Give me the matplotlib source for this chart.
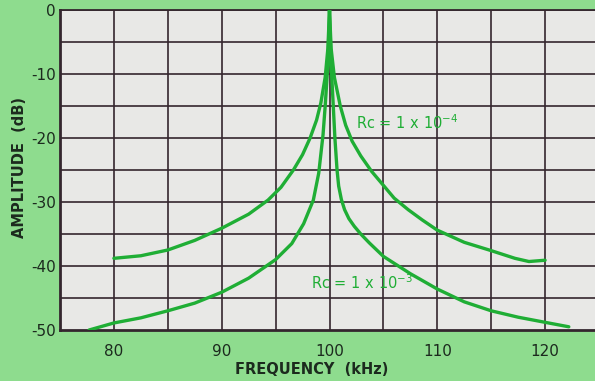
import matplotlib
matplotlib.use("Agg")
import matplotlib.pyplot as plt
import numpy as np

# Frequency response of the filter for two values of Rc
freq_rc4 = [80, 82.5, 85, 87.5, 90, 92.5, 94.3, 95.5, 96.65, 97.5, 98.2, 98.8,
            99.2, 99.6, 99.85, 100, 100.15, 100.45, 101.0, 101.5, 102.1, 102.9,
            103.9, 105.0, 106.0, 107.3, 108.6, 110, 112.5, 115, 117.2, 118.5, 120]
amp_rc4 = [-38.8, -38.4, -37.5, -36.0, -34.1, -31.9, -29.7, -27.7, -25.0, -22.6,
           -20.0, -17.2, -14.5, -10.5, -6.0, 0, -6.0, -10.5, -15.0, -18.0, -20.5,
           -22.8, -25.2, -27.4, -29.4, -31.2, -32.8, -34.4, -36.3, -37.6, -38.8,
           -39.3, -39.1]

freq_rc3 = [77.7, 80, 82.5, 85, 87.5, 90, 92.5, 95, 96.5, 97.6, 98.5, 99.0, 99.4,
            99.6, 99.85, 100, 100.15, 100.35, 100.5, 100.7, 100.85, 101.1, 101.4,
            101.8, 102.3, 102.9, 103.7, 105, 107.5, 110, 112.5, 115, 117.5, 120,
            122.2]
amp_rc3 = [-50.0, -48.9, -48.1, -47.0, -45.8, -44.1, -41.9, -39.0, -36.5, -33.4,
           -29.7, -25.5, -19.5, -15.0, -8.5, 0, -8.5, -15.0, -20.0, -25.0, -27.5,
           -29.6, -31.2, -32.6, -33.8, -35.0, -36.4, -38.5, -41.2, -43.6, -45.6,
           -47.0, -48.0, -48.8, -49.5]

x_ticks = [80, 90, 100, 110, 120]
x_tick_labels = ["80", "90", "100", "110", "120"]
y_ticks = [0, -10, -20, -30, -40, -50]
y_tick_labels = ["0", "-10", "-20", "-30", "-40", "-50"]

bg = "#8edc8e"
face = "#e8e8e6"
grid_col = "#34262e"
curve_col = "#1fae35"
text_col = "#1c2a1e"

W, H = 595, 381
fig = plt.figure(figsize=(W / 100, H / 100), dpi=100, facecolor=bg)
ax = fig.add_axes([60 / W, (H - 330) / H, 539 / W, 320 / H])
ax.set_facecolor(face)
ax.set_xlim(75, 125)
ax.set_ylim(-50, 0)

# 5 kHz / 5 dB grid
for xv in np.arange(80, 125, 5):
    ax.axvline(xv, color=grid_col, lw=1.2, zorder=1)
for yv in np.arange(-45, 1, 5):
    ax.axhline(yv, color=grid_col, lw=1.2, zorder=1)

ax.plot(freq_rc4, amp_rc4, color=curve_col, lw=2.4, solid_joinstyle="round",
        solid_capstyle="round", zorder=3)
ax.plot(freq_rc3, amp_rc3, color=curve_col, lw=2.4, solid_joinstyle="round",
        solid_capstyle="round", zorder=3)

ax.text(102.5, -17.6, "Rc = 1 x 10$^{-4}$", color=curve_col, fontsize=10.5,
        ha="left", va="center", zorder=4)
ax.text(98.3, -42.6, "Rc = 1 x 10$^{-3}$", color=curve_col, fontsize=10.5,
        ha="left", va="center", zorder=4)

ax.set_xticks(x_ticks)
ax.set_xticklabels(x_tick_labels)
ax.set_yticks(y_ticks)
ax.set_yticklabels(y_tick_labels)
ax.tick_params(length=0, labelsize=11, colors=text_col)
ax.tick_params(axis="x", pad=10)
ax.tick_params(axis="y", pad=3)

for side in ["left", "bottom"]:
    ax.spines[side].set_color(grid_col)
    ax.spines[side].set_linewidth(2.0)
ax.spines["top"].set_color(grid_col)
ax.spines["top"].set_linewidth(1.3)
ax.spines["right"].set_visible(False)

fig.text(312 / W, 1 - 369 / H, "FREQUENCY  (kHz)", ha="center", va="center",
         fontsize=10.5, color=text_col, fontweight="bold")
fig.text(20 / W, 1 - 168 / H, "AMPLITUDE  (dB)", ha="center", va="center",
         rotation=90, fontsize=10.5, color=text_col, fontweight="bold")

fig.savefig("out.png", dpi=100, facecolor=bg)
